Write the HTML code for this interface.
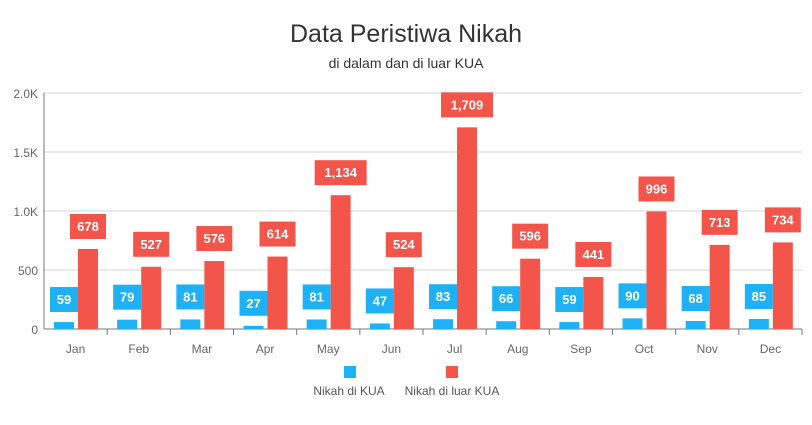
<!DOCTYPE html>
<html><head><meta charset="utf-8"><style>
body{margin:0;background:#fff;font-family:"Liberation Sans",sans-serif}
svg text{font-family:"Liberation Sans",sans-serif}
</style></head><body>
<svg id="c" width="812" height="420">
<text x="406" y="42" text-anchor="middle" font-size="25" fill="#333">Data Peristiwa Nikah</text>
<text x="406" y="68" text-anchor="middle" font-size="14" fill="#333">di dalam dan di luar KUA</text>
<g id="grid"></g><g id="bars"></g>
<g>
<rect x="344" y="366" width="12" height="12" fill="#1eb1f5"/>
<text x="349" y="395" text-anchor="middle" font-size="12" fill="#555">Nikah di KUA</text>
<rect x="446" y="366" width="12" height="12" fill="#f4554b"/>
<text x="452" y="395" text-anchor="middle" font-size="12" fill="#555">Nikah di luar KUA</text>
</g>
</svg>
<script>
const categories=["Jan","Feb","Mar","Apr","May","Jun","Jul","Aug","Sep","Oct","Nov","Dec"];
const kuaValues=[59,79,81,27,81,47,83,66,59,90,68,85];
const luarValues=[678,527,576,614,1134,524,1709,596,441,996,713,734];
const yTicks=[0,500,1000,1500,2000];
const yTickLabels=["0","500","1.0K","1.5K","2.0K"];
const NS="http://www.w3.org/2000/svg";
const x0=44,x1=802,y0=329,yTop=93,yMax=2000;
const cw=(x1-x0)/categories.length;
const y=v=>y0-(v/yMax)*(y0-yTop);
function mk(t,a,p){const e=document.createElementNS(NS,t);for(const k in a)e.setAttribute(k,a[k]);p.appendChild(e);return e;}
const g=document.getElementById('grid'),b=document.getElementById('bars');
yTicks.forEach((v,i)=>{
 const l=mk('line',{x1:x0,x2:x1,y1:y(v),y2:y(v),stroke:'#d6d6d6'},g);
 
 
 const t=mk('text',{x:x0-6,y:y(v)+5,'text-anchor':'end','font-size':12,fill:'#666'},g);
 t.textContent=yTickLabels[i];
 
 
});
const ax=mk('line',{x1:x0,x2:x0,y1:yTop,y2:y0,stroke:'#777'},g);


const bx=mk('line',{x1:x0,x2:x1,y1:y0,y2:y0,stroke:'#777'},g);


function fmt(v){return v.toLocaleString('en-US');}
function bar(v,x,col,name){
 const r=mk('rect',{x:x,y:y(v),width:20,height:y0-y(v),fill:col},b);
 
 
 const s=fmt(v),w=s.length*8+12;
 const lb=mk('rect',{x:x+10-w/2,y:y(v)-35,width:w,height:25,fill:col},b);
 
 
 const t=mk('text',{x:x+10,y:y(v)-18,'text-anchor':'middle','font-size':13,'font-weight':'bold',fill:'#fff'},b);
 t.textContent=s;
 
 
}
categories.forEach((c,i)=>{
 const cx=x0+i*cw;
 const tk=mk('line',{x1:cx+cw,x2:cx+cw,y1:y0,y2:y0+6,stroke:'#777'},g);
 
 
 const t=mk('text',{x:cx+cw/2,y:y0+24,'text-anchor':'middle','font-size':12,fill:'#666'},g);
 t.textContent=c;
 
 
 bar(kuaValues[i],cx+10,'#1eb1f5','bar-kua-'+c.toLowerCase());
 bar(luarValues[i],cx+34,'#f4554b','bar-luar-'+c.toLowerCase());
});
</script>
</body></html>
